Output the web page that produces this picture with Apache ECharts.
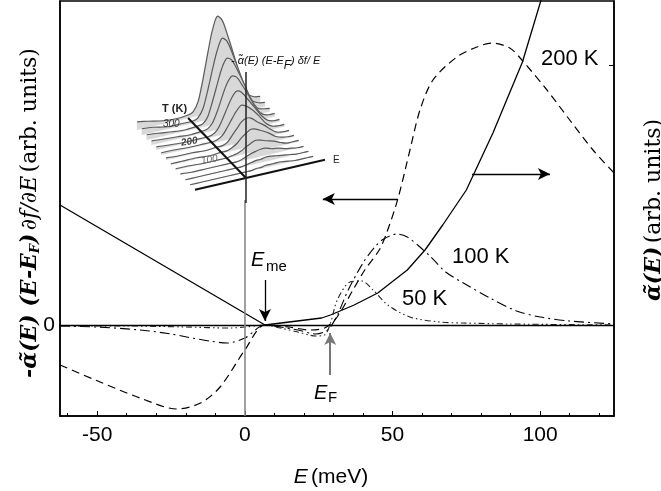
<!DOCTYPE html>
<html><head><meta charset="utf-8">
<script src="https://cdn.jsdelivr.net/npm/echarts@6.0.0/dist/echarts.min.js"></script>
<style>html,body{margin:0;padding:0;background:#fff}#c{width:661px;height:491px}</style>
</head><body><div id="c"></div>
<script>
// ---- axis ticks ----
const xTickLabels = [-50, 0, 50, 100];
const xMinorTicks = [-60, -40, -30, -20, -10, 10, 20, 30, 40, 60, 70, 80, 90, 110, 120];
const yTickLabels = [0];
const rightTicks = [2.6];

// ---- sigma(E) (solid, right axis) ----
const solidE = [-62.6, 6.8, 15, 26, 29, 37, 45, 55, 61, 67, 75, 84, 94, 100.3, 104];
const solidY = [1.20, 0, 0.03, 0.07, 0.10, 0.20, 0.32, 0.55, 0.75, 1.0, 1.35, 1.92, 2.63, 3.25, 3.62];

// ---- 200 K (dashed) ----
const k200E = [-62.6, -49, -35.5, -23, -15, -8.4, 0, 6.8, 15, 22, 27, 31, 36.6, 40.6, 45.5, 48, 51.8, 55.9, 59.3, 63.7, 71.8, 78.6, 83.7, 89.7, 93.8, 102.3, 110, 117.9, 125];
const k200Y = [-0.40, -0.57, -0.73, -0.84, -0.78, -0.62, -0.25, 0, -0.02, -0.05, -0.03, 0.07, 0.35, 0.55, 0.75, 0.92, 1.26, 1.75, 2.15, 2.45, 2.68, 2.78, 2.82, 2.77, 2.65, 2.35, 2.05, 1.75, 1.52];

// ---- 100 K (dash-dot) ----
const k100E = [-62.6, -50, -35.5, -25, -19.7, -12, -6, 0, 6.8, 12, 18, 24, 28, 31, 35, 40, 44, 47, 51.5, 55, 59.3, 63, 68, 74, 83, 92, 100, 110, 125];
const k100Y = [-0.01, -0.02, -0.05, -0.09, -0.12, -0.16, -0.18, -0.13, 0, -0.02, -0.05, -0.09, -0.05, 0.08, 0.35, 0.62, 0.78, 0.86, 0.91, 0.88, 0.78, 0.68, 0.53, 0.42, 0.27, 0.14, 0.08, 0.04, 0.01];

// ---- 50 K (dash-dot-dot) ----
const k50E = [-62.6, -40, -20, -5, 0, 6.8, 12, 18, 24, 27, 29, 31.3, 35.6, 39.6, 43.4, 48.4, 55.9, 66, 74, 90, 125];
const k50Y = [-0.01, -0.01, -0.02, -0.03, -0.02, 0, -0.03, -0.07, -0.11, -0.10, 0.02, 0.25, 0.43, 0.44, 0.35, 0.20, 0.08, 0.03, 0.02, 0.01, 0.0];

// ---- inset waterfall (temperature slices, heights along E) ----
const insetT = [300, 275, 250, 225, 200, 175, 150, 125, 100, 75, 50, 25];
const insetE = [-51, -40, -25, -12, 0, 5, 10, 15, 20, 24, 29, 34, 40, 47, 54, 60, 66, 72];
const insetZ = [
  [8, 6, 3, 2, 3, 5, 14, 36, 62, 81, 95, 90, 72, 48, 23, 10, 6, 5],
  [6, 5, 2, 2, 2, 4, 12, 30, 51, 66, 78, 74, 59, 39, 19, 8, 5, 4],
  [5, 4, 2, 1, 2, 3, 9, 24, 41, 54, 63, 60, 48, 32, 15, 6, 4, 3],
  [4, 3, 2, 1, 2, 3, 8, 19, 33, 43, 50, 48, 38, 25, 12, 5, 3, 3],
  [3, 2, 1, 1, 1, 2, 6, 15, 26, 34, 40, 38, 30, 20, 10, 4, 2, 2],
  [2, 2, 1, 1, 1, 2, 5, 12, 20, 26, 31, 29, 24, 16, 7, 3, 2, 2],
  [2, 1, 1, 0, 1, 1, 3, 9, 15, 20, 23, 22, 17, 12, 6, 2, 1, 1],
  [1, 1, 1, 0, 1, 1, 3, 6, 11, 14, 17, 16, 13, 9, 4, 2, 1, 1],
  [1, 1, 0, 0, 0, 1, 2, 4, 7, 9, 11, 10, 8, 6, 3, 1, 1, 1],
  [1, 0, 0, 0, 0, 0, 1, 3, 5, 6, 7, 7, 5, 4, 2, 1, 0, 0],
  [0, 0, 0, 0, 0, 0, 1, 2, 3, 3, 4, 4, 3, 2, 1, 0, 0, 0],
  [0, 0, 0, 0, 0, 0, 0, 1, 1, 2, 2, 2, 2, 1, 0, 0, 0, 0]
];
const insetAxisT = [0, 300];
const insetAxisE = [-51, 79];
const insetAxisZ = [-25, 106];

// inset oblique projection layout (pixels)
const L = {ox: 246, oy: 178, ex: 1, ey: -0.231, tx: -0.193, ty: -0.2};
function proj(e, t, z) {
  return [L.ox + e * L.ex + t * L.tx, L.oy + e * L.ey + t * L.ty - z];
}

const zip = (a, b) => a.map((v, i) => [v, b[i]]);
const SANS = 'Liberation Sans';
const SERIF = 'DejaVu Serif';

const chart = echarts.init(document.getElementById('c'), null, {renderer: 'canvas'});

const arrowStyle = (c) => ({color: c, width: 1.3, type: 'solid'});

const option = {
  animation: false,
  backgroundColor: '#fff',
  grid: [
    {left: 60, right: 47, top: 1, bottom: 75, show: true, borderColor: '#000', borderWidth: 1.5, backgroundColor: 'transparent'},
    {left: 0, right: 0, top: 0, bottom: 0}
  ],
  xAxis: [
    {type: 'value', gridIndex: 0, min: -62.6, max: 125, position: 'bottom',
      axisLine: {show: true, onZero: false, lineStyle: {color: '#000', width: 1.5}},
      axisTick: {show: true, inside: true, length: 5, customValues: xTickLabels, lineStyle: {color: '#000', width: 1}},
      axisLabel: {show: true, customValues: xTickLabels, fontSize: 21, color: '#000', fontFamily: SANS, margin: 9},
      splitLine: {show: false}},
    {type: 'value', gridIndex: 0, min: -62.6, max: 125, position: 'bottom',
      axisLine: {show: false, onZero: false},
      axisTick: {show: true, inside: true, length: 3, customValues: xMinorTicks, lineStyle: {color: '#000', width: 1}},
      axisLabel: {show: false}, splitLine: {show: false}},
    {type: 'value', gridIndex: 1, min: 0, max: 661, show: false}
  ],
  yAxis: [
    {type: 'value', gridIndex: 0, min: -0.91, max: 3.24, position: 'left',
      axisLine: {show: true, onZero: false, lineStyle: {color: '#000', width: 1.5}},
      axisTick: {show: false},
      axisLabel: {show: true, customValues: yTickLabels, fontSize: 21, color: '#000', fontFamily: SANS, margin: 5},
      splitLine: {show: false}},
    {type: 'value', gridIndex: 0, min: -0.91, max: 3.24, position: 'right',
      axisLine: {show: true, onZero: false, lineStyle: {color: '#000', width: 1.5}},
      axisTick: {show: true, inside: true, length: 5, customValues: rightTicks, lineStyle: {color: '#000', width: 1}},
      axisLabel: {show: false}, splitLine: {show: false}},
    {type: 'value', gridIndex: 1, min: 0, max: 491, inverse: true, show: false}
  ],
  series: [
    {
      name: 'sigma', type: 'line', xAxisIndex: 0, yAxisIndex: 1, data: zip(solidE, solidY),
      showSymbol: false, smooth: false, clip: true, z: 3,
      lineStyle: {color: '#000', width: 1.3},
      markLine: {
        silent: true, animation: false, symbol: 'none', label: {show: false},
        data: [
          [{coord: [-62.6, 0], symbol: 'none'}, {coord: [125, 0], symbol: 'none', lineStyle: {color: '#000', width: 1.3, type: 'solid'}}],
          [{coord: [0, -0.91], symbol: 'none'}, {coord: [0, 1.25], symbol: 'none', lineStyle: {color: '#888', width: 1.6, type: 'solid'}}],
          [{coord: [51.8, 1.26], symbol: 'none'}, {coord: [26.4, 1.26], symbol: 'arrow', symbolSize: [9, 12], lineStyle: arrowStyle('#000')}],
          [{coord: [76.9, 1.51], symbol: 'none'}, {coord: [103.3, 1.51], symbol: 'arrow', symbolSize: [9, 12], lineStyle: arrowStyle('#000')}],
          [{coord: [6.8, 0.45], symbol: 'none'}, {coord: [6.8, 0.04], symbol: 'arrow', symbolSize: [9, 12], lineStyle: arrowStyle('#000')}],
          [{coord: [28.9, -0.50], symbol: 'none'}, {coord: [28.9, -0.08], symbol: 'arrow', symbolSize: [9, 12], lineStyle: {color: '#777', width: 2, type: 'solid'}, itemStyle: {color: '#777'}}]
        ]
      }
    },
    {
      name: '200 K', type: 'line', xAxisIndex: 0, yAxisIndex: 0, data: zip(k200E, k200Y),
      showSymbol: false, smooth: 0.3, clip: true,
      lineStyle: {color: '#000', width: 1.2, type: [8, 5]}
    },
    {
      name: '100 K', type: 'line', xAxisIndex: 0, yAxisIndex: 0, data: zip(k100E, k100Y),
      showSymbol: false, smooth: 0.3, clip: true,
      lineStyle: {color: '#000', width: 1.1, type: [10, 4, 2, 4]}
    },
    {
      name: '50 K', type: 'line', xAxisIndex: 0, yAxisIndex: 0, data: zip(k50E, k50Y),
      showSymbol: false, smooth: 0.3, clip: true,
      lineStyle: {color: '#222', width: 1.1, type: [6, 3, 1.5, 3, 1.5, 3]}
    },
    {
      name: 'inset', type: 'custom', xAxisIndex: 2, yAxisIndex: 2, silent: true, z: 5,
      data: insetT.map((t, i) => [i, t]),
      encode: {x: 0, y: 1},
      renderItem: function (params, api) {
        const i = api.value(0);
        const T = insetT[i];
        const zs = insetZ[i];
        const top = [], base = [];
        insetE.forEach((e, k) => {
          top.push(api.coord(proj(e, T, zs[k])));
          base.push(api.coord(proj(e, T, 0)));
        });
        const poly = top.concat(base.slice().reverse());
        return {
          type: 'group', children: [
            {type: 'polygon', shape: {points: poly}, style: {fill: '#d8d8d8', stroke: '#d8d8d8', lineWidth: 0.5}},
            {type: 'polyline', shape: {points: top, smooth: 0.3}, style: {stroke: '#5a5a5a', lineWidth: 1.2, fill: null}}
          ]
        };
      }
    },
    {
      name: 'insetAxes', type: 'custom', xAxisIndex: 2, yAxisIndex: 2, silent: true, z: 6,
      data: [[0, 0]],
      encode: {x: 0, y: 1},
      renderItem: function (params, api) {
        const tA = api.coord(proj(0, insetAxisT[0], 0)), tB = api.coord(proj(0, insetAxisT[1], 0));
        const eA = api.coord(proj(insetAxisE[0], 0, 0)), eB = api.coord(proj(insetAxisE[1], 0, 0));
        const zA = api.coord(proj(0, 0, insetAxisZ[0])), zB = api.coord(proj(0, 0, insetAxisZ[1]));
        return {
          type: 'group', children: [
            {type: 'line', shape: {x1: tA[0], y1: tA[1], x2: tB[0], y2: tB[1]}, style: {stroke: '#111', lineWidth: 2}},
            {type: 'line', shape: {x1: eA[0], y1: eA[1], x2: eB[0], y2: eB[1]}, style: {stroke: '#111', lineWidth: 2}},
            {type: 'line', shape: {x1: zA[0], y1: zA[1], x2: zB[0], y2: zB[1]}, style: {stroke: '#222', lineWidth: 1.5}}
          ]
        };
      }
    }
  ],
  graphic: [
    {type: 'text', x: 30, y: 213, rotation: Math.PI / 2, z: 10,
      style: {text: '{b|-α̃(E) (E-E}{bs|F}{b|)} {i|∂f/∂E} {n|(arb. units)}', align: 'center', verticalAlign: 'middle',
        rich: {
          b: {fontFamily: SERIF, fontSize: 22, fontWeight: 'bold', fontStyle: 'italic', fill: '#000'},
          bs: {fontFamily: SERIF, fontSize: 13, fontWeight: 'bold', fontStyle: 'italic', fill: '#000', padding: [11, 0, 0, 0]},
          i: {fontFamily: SERIF, fontSize: 22, fontStyle: 'italic', fill: '#000'},
          n: {fontFamily: SERIF, fontSize: 22, fill: '#000'}
        }}},
    {type: 'text', x: 654, y: 210, rotation: Math.PI / 2, z: 10,
      style: {text: '{b|α̃(E)} {n|(arb. units)}', align: 'center', verticalAlign: 'middle',
        rich: {
          b: {fontFamily: SERIF, fontSize: 22, fontWeight: 'bold', fontStyle: 'italic', fill: '#000'},
          n: {fontFamily: SERIF, fontSize: 22, fill: '#000'}
        }}},
    {type: 'text', x: 331, y: 477, z: 10,
      style: {text: '{i|E} {n|(meV)}', align: 'center', verticalAlign: 'middle',
        rich: {
          i: {fontFamily: SANS, fontSize: 21, fontStyle: 'italic', fill: '#000'},
          n: {fontFamily: SANS, fontSize: 21, fill: '#000'}
        }}},
    {type: 'text', x: 251, y: 260, z: 10, style: {text: 'E', fontFamily: SANS, fontSize: 20, fontStyle: 'italic', fill: '#000', align: 'left', verticalAlign: 'middle'}},
    {type: 'text', x: 266, y: 267, z: 10, style: {text: 'me', fontFamily: SANS, fontSize: 15, fill: '#000', align: 'left', verticalAlign: 'middle'}},
    {type: 'text', x: 314, y: 393, z: 10, style: {text: 'E', fontFamily: SANS, fontSize: 20, fontStyle: 'italic', fill: '#000', align: 'left', verticalAlign: 'middle'}},
    {type: 'text', x: 328, y: 398, z: 10, style: {text: 'F', fontFamily: SANS, fontSize: 15, fill: '#000', align: 'left', verticalAlign: 'middle'}},
    {type: 'text', x: 541, y: 59, z: 10, style: {text: '200 K', fontFamily: SANS, fontSize: 22, fill: '#000', align: 'left', verticalAlign: 'middle'}},
    {type: 'text', x: 452, y: 257, z: 10, style: {text: '100 K', fontFamily: SANS, fontSize: 22, fill: '#000', align: 'left', verticalAlign: 'middle'}},
    {type: 'text', x: 402, y: 299, z: 10, style: {text: '50 K', fontFamily: SANS, fontSize: 22, fill: '#000', align: 'left', verticalAlign: 'middle'}},
    // inset labels
    {type: 'text', x: 231, y: 61, z: 10,
      style: {text: '{t|- α̃(E) (E-E}{s|F}{t|) δf/ E}', align: 'left', verticalAlign: 'middle',
        rich: {
          t: {fontFamily: SANS, fontSize: 11, fontStyle: 'italic', fill: '#111'},
          s: {fontFamily: SANS, fontSize: 12, fontStyle: 'italic', fill: '#111', padding: [9, 0, 0, 0]}
        }}},
    {type: 'text', x: 162, y: 109, z: 10, style: {text: 'T (K)', fontFamily: SANS, fontSize: 11, fontWeight: 'bold', fill: '#222', align: 'left', verticalAlign: 'middle'}},
    {type: 'text', x: 163, y: 124, z: 10, style: {text: '300', fontFamily: SANS, fontSize: 10, fontStyle: 'italic', fill: '#333', align: 'left', verticalAlign: 'middle'}},
    {type: 'text', x: 181, y: 143, z: 10, rotation: 0.15, style: {text: '200', fontFamily: SANS, fontSize: 10, fontStyle: 'italic', fontWeight: 'bold', fill: '#444', align: 'left', verticalAlign: 'middle'}},
    {type: 'text', x: 201, y: 161, z: 10, rotation: 0.15, style: {text: '100', fontFamily: SANS, fontSize: 10, fontStyle: 'italic', fill: '#666', align: 'left', verticalAlign: 'middle'}},
    {type: 'text', x: 333, y: 160, z: 10, style: {text: 'E', fontFamily: SANS, fontSize: 10, fill: '#222', align: 'left', verticalAlign: 'middle'}}
  ]
};
chart.setOption(option);
</script></body></html>
